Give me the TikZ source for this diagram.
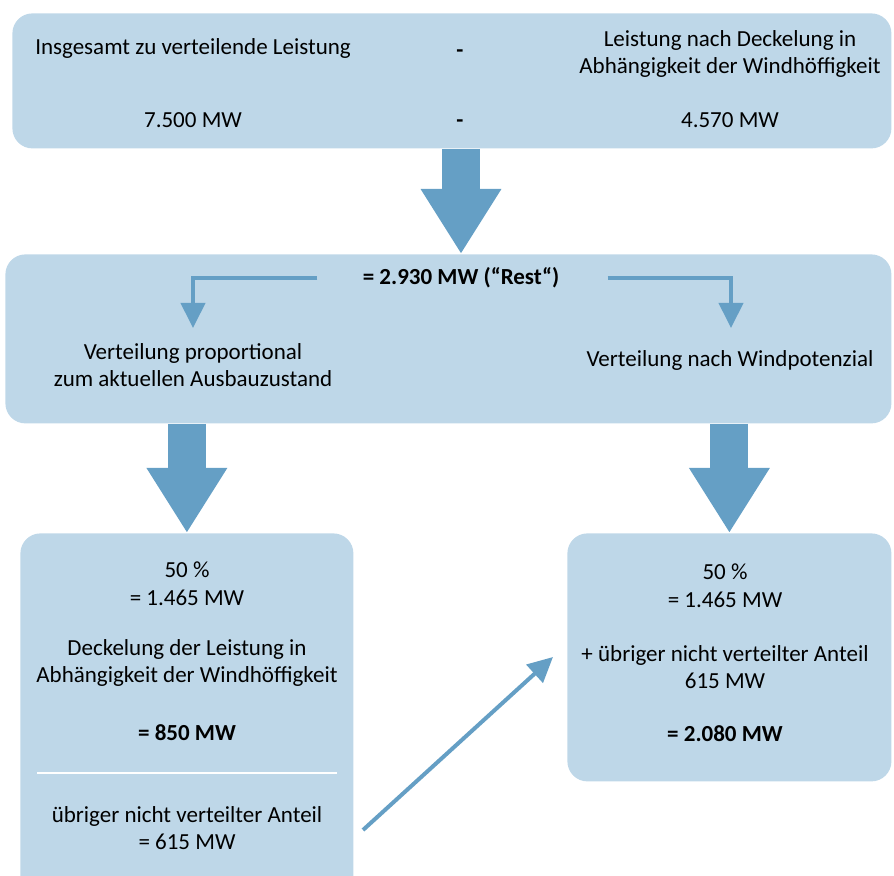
\documentclass[tikz,border=0pt]{standalone}
\usepackage{fontspec}
\setmainfont{Carlito}
\usetikzlibrary{arrows.meta,positioning}
\definecolor{boxblue}{RGB}{190,215,232}
\definecolor{arrowblue}{RGB}{101,159,197}

\begin{document}
\begin{tikzpicture}[x=0.5pt,y=-0.5pt,
  box/.style={fill=boxblue,rounded corners=10pt,inner sep=0pt,anchor=north west},
  txt/.style={align=center,inner sep=0pt,font=\fontsize{11.5}{13.8}\selectfont},
  bigarrow/.style={draw=arrowblue,line width=19pt,-{Triangle[width=38pt,length=32.5pt]}},
  thinarrow/.style={draw=arrowblue,line width=2pt,-{Triangle[width=12pt,length=12.5pt]}}]
\useasboundingbox (0,0) rectangle (894,876);
%
\draw (12,13) node[box,minimum width=439.5pt,minimum height=67.5pt] (total) {};
\draw (5,254) node[box,minimum width=443pt,minimum height=84.5pt] (mid) {};
\draw (20,533) node[box,minimum width=166.5pt,minimum height=190pt] (left) {};
\draw (567,533) node[box,minimum width=162pt,minimum height=124pt] (right) {};
%
\draw (193,48) node[txt] (insg) {Insgesamt zu verteilende Leistung};
\draw (460,54) node[txt] (minusA) {\textbf{-}};
\draw (730,54) node[txt] (capped)
  {Leistung nach Deckelung in\\Abhängigkeit der Windhöffigkeit};
\draw (193,120) node[txt] (sum) {7.500 MW};
\draw (460,124) node[txt] (minusB) {\textbf{-}};
\draw (730,120) node[txt] (cappedVal) {4.570 MW};
%
\draw (461,278) node[txt] (rest) {\textbf{= 2.930 MW (“Rest“)}};
\path[bigarrow] (rest |- total.south) -- (rest |- mid.north);
%
\draw (193,365) node[txt] (prop) {Verteilung proportional\\zum aktuellen Ausbauzustand};
\draw (730,360) node[txt] (wind) {Verteilung nach Windpotenzial};
\coordinate (propIn) at (193,328);
\coordinate (windIn) at (731,328);
\path[thinarrow] (rest.west)++(-45,0) -| (propIn);
\path[thinarrow] (rest.east)++(48,0) -| (windIn);
%
\path[bigarrow] (left.north |- mid.south) -- (left.north);
\path[bigarrow] (right.north |- mid.south) -- (right.north);
%
\draw (187,584) node[txt] (halfL) {50 \%\\= 1.465 MW};
\draw (187,663) node[txt] (capL) {Deckelung der Leistung in\\Abhängigkeit der Windhöffigkeit};
\draw (187,733) node[txt] (capVal) {\textbf{= 850 MW}};
\draw[white,line width=1pt] (37,773) -- (337,773);
\draw (187,828) node[txt] (remain) {übriger nicht verteilter Anteil\\= 615 MW};
%
\draw (725,586) node[txt] (halfR) {50 \%\\= 1.465 MW};
\draw (725,667) node[txt] (plusR) {+ übriger nicht verteilter Anteil\\615 MW};
\draw (725,734) node[txt] (sumR) {\textbf{= 2.080 MW}};
%
\coordinate (fromRest) at (363,830);
\coordinate (toPlus) at (553,657);
\path[thinarrow] (fromRest) -- (toPlus);
\end{tikzpicture}
\end{document}
